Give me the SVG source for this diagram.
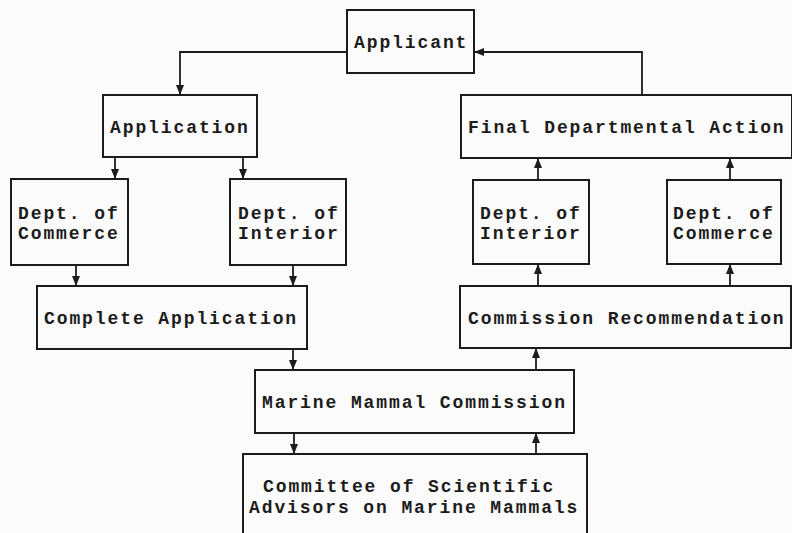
<svg xmlns="http://www.w3.org/2000/svg" width="792" height="533" viewBox="0 0 792 533">
<defs>
<style>
.box{fill:none;stroke:#1c1c1c;stroke-width:2}
.t{font-family:"Liberation Mono","Courier New",monospace;font-size:18px;letter-spacing:1.9px;font-weight:bold;fill:#1c1c1c}
.c{fill:none;stroke:#1c1c1c;stroke-width:1.8}
</style>
<marker id="ah" markerUnits="userSpaceOnUse" markerWidth="10" markerHeight="10" viewBox="0 0 10 10" refX="10" refY="5" orient="auto">
<path d="M0,1 L10,5 L0,9 Z" fill="#1c1c1c"/>
</marker>
</defs>
<rect width="792" height="533" fill="#fbfbfb"/>
<g id="connectors">
<path class="c" d="M347,52 H180 V95" marker-end="url(#ah)"/>
<path class="c" d="M642,95 V52 H474" marker-end="url(#ah)"/>
<path class="c" d="M115,157 V179" marker-end="url(#ah)"/>
<path class="c" d="M243,157 V179" marker-end="url(#ah)"/>
<path class="c" d="M76,265 V286" marker-end="url(#ah)"/>
<path class="c" d="M293,265 V286" marker-end="url(#ah)"/>
<path class="c" d="M293,349 V370" marker-end="url(#ah)"/>
<path class="c" d="M294,433 V454" marker-end="url(#ah)"/>
<path class="c" d="M536,454 V433" marker-end="url(#ah)"/>
<path class="c" d="M536,370 V348" marker-end="url(#ah)"/>
<path class="c" d="M538,286 V264" marker-end="url(#ah)"/>
<path class="c" d="M730,286 V264" marker-end="url(#ah)"/>
<path class="c" d="M538,180 V158" marker-end="url(#ah)"/>
<path class="c" d="M730,180 V158" marker-end="url(#ah)"/>
</g>
<g id="applicant">
<rect class="box" x="347" y="10" width="127" height="63"/>
<text class="t" x="354" y="48">Applicant</text>
</g>
<g id="application">
<rect class="box" x="103" y="95" width="154" height="62"/>
<text class="t" x="110" y="133">Application</text>
</g>
<g id="dept-commerce-left">
<rect class="box" x="11" y="179" width="117" height="86"/>
<text class="t" x="18" y="219">Dept. of</text>
<text class="t" x="18" y="239">Commerce</text>
</g>
<g id="dept-interior-left">
<rect class="box" x="230" y="179" width="116" height="86"/>
<text class="t" x="238" y="219">Dept. of</text>
<text class="t" x="238" y="239">Interior</text>
</g>
<g id="complete-application">
<rect class="box" x="37" y="286" width="270" height="63"/>
<text class="t" x="44" y="324">Complete Application</text>
</g>
<g id="marine-mammal-commission">
<rect class="box" x="255" y="370" width="319" height="63"/>
<text class="t" x="262" y="408">Marine Mammal Commission</text>
</g>
<g id="committee">
<path class="box" d="M243,540 V454 H587 V540"/>
<text class="t" x="263" y="492">Committee of Scientific</text>
<text class="t" x="249" y="513">Advisors on Marine Mammals</text>
</g>
<g id="commission-recommendation">
<rect class="box" x="460" y="286" width="331" height="62"/>
<text class="t" x="468" y="324">Commission Recommendation</text>
</g>
<g id="dept-interior-right">
<rect class="box" x="473" y="180" width="116" height="84"/>
<text class="t" x="480" y="219">Dept. of</text>
<text class="t" x="480" y="239">Interior</text>
</g>
<g id="dept-commerce-right">
<rect class="box" x="667" y="180" width="114" height="84"/>
<text class="t" x="673" y="219">Dept. of</text>
<text class="t" x="673" y="239">Commerce</text>
</g>
<g id="final-departmental-action">
<rect class="box" x="461" y="95" width="331" height="63"/>
<text class="t" x="468" y="133">Final Departmental Action</text>
</g>
</svg>
